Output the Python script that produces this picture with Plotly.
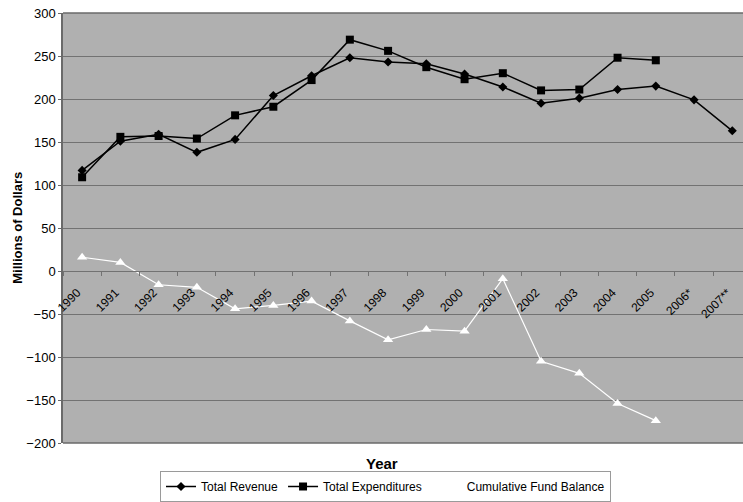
import plotly.graph_objects as go

# Fiscal years (last two are estimates / projections)
years = ["1990", "1991", "1992", "1993", "1994", "1995", "1996", "1997", "1998",
         "1999", "2000", "2001", "2002", "2003", "2004", "2005", "2006*", "2007**"]

# Millions of dollars
total_revenue = [117, 151, 159, 138, 153, 204, 227, 248, 243, 241, 229, 214,
                 195, 201, 211, 215, 199, 163]
total_expenditures = [109, 156, 157, 154, 181, 191, 222, 269, 256, 237, 223, 230,
                      210, 211, 248, 245, None, None]
cumulative_fund_balance = [16, 10, -16, -19, -44, -40, -35, -58, -80, -68, -70, -9,
                           -105, -119, -154, -174, None, None]

y_ticks = list(range(-200, 301, 50))

FONT = "Liberation Sans, Arial, sans-serif"
PLOT_BG = "#b0b0b0"
GRID = "#727272"
FRAME = "#6a6a6a"

fig = go.Figure()

fig.add_trace(go.Scatter(
    x=years, y=total_revenue, name="Total Revenue", mode="lines+markers",
    line=dict(color="black", width=1.5),
    marker=dict(symbol="diamond", size=7, color="black"),
))
fig.add_trace(go.Scatter(
    x=years, y=total_expenditures, name="Total Expenditures", mode="lines+markers",
    line=dict(color="black", width=1.5),
    marker=dict(symbol="square", size=8, color="black"),
))
fig.add_trace(go.Scatter(
    x=years, y=cumulative_fund_balance, name="Cumulative Fund Balance",
    mode="lines+markers",
    line=dict(color="white", width=1.2),
    marker=dict(symbol="triangle-up", size=9, color="white"),
))

fig.update_layout(
    width=743, height=502,
    margin=dict(l=63, r=0, t=13, b=59, autoexpand=False),
    paper_bgcolor="white",
    plot_bgcolor=PLOT_BG,
    font=dict(family=FONT, size=12, color="black"),
    showlegend=True,
    legend=dict(
        orientation="h",
        xref="container", yref="container",
        x=160 / 743, xanchor="left",
        y=(502 - 471) / 502, yanchor="top",
        bgcolor="white", bordercolor="#9a9a9a", borderwidth=1,
        font=dict(family=FONT, size=12, color="black"),
        itemwidth=30, tracegroupgap=0,
    ),
    xaxis=dict(
        type="category",
        range=[-0.5, 17.28],
        anchor="free", position=0.4,  # axis crosses at y = 0
        automargin=False,
        showgrid=False, zeroline=False,
        showline=True, linecolor=GRID, linewidth=1,
        ticks="outside", ticklen=4, tickcolor=GRID, tickson="boundaries",
        tickangle=-45,
        ticklabelstandoff=9, ticklabelshift=-5,
        tickfont=dict(family=FONT, size=12, color="black"),
    ),
    yaxis=dict(
        range=[-200, 300],
        tickvals=y_ticks,
        automargin=False,
        showgrid=True, gridcolor=GRID, gridwidth=1,
        zeroline=False,
        showline=True, linecolor=FRAME, linewidth=1.5,
        ticks="outside", ticklen=3, tickcolor=FRAME,
        tickfont=dict(family=FONT, size=13, color="black"),
    ),
    annotations=[
        dict(text="<b>Millions of Dollars</b>", xref="paper", yref="paper",
             x=-0.068, y=0.5, xanchor="center", yanchor="middle",
             textangle=-90, showarrow=False,
             font=dict(family=FONT, size=13, color="black")),
        dict(text="<b>Year</b>", xref="paper", yref="paper",
             x=(382 - 63) / 680, y=-(464 - 443) / 430,
             xanchor="center", yanchor="middle", showarrow=False,
             font=dict(family=FONT, size=15, color="black")),
    ],
    shapes=[
        dict(type="line", xref="paper", yref="paper", x0=0, x1=1, y0=1, y1=1,
             line=dict(color=FRAME, width=1.5)),
        dict(type="line", xref="paper", yref="paper", x0=0, x1=1, y0=0, y1=0,
             line=dict(color=FRAME, width=1.5)),
    ],
)

fig.write_html("out.html")
